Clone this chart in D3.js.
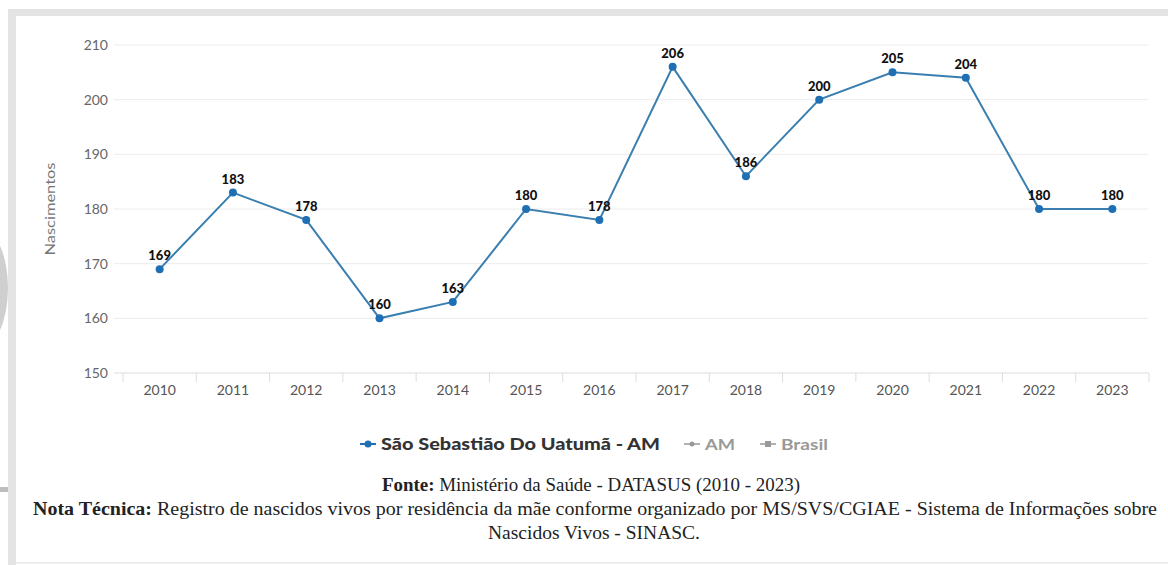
<!DOCTYPE html>
<html><head><meta charset="utf-8">
<script src="https://cdn.jsdelivr.net/npm/d3@7"></script>
<style>body{margin:0;background:#fff;}svg{display:block;}</style>
</head><body>
<svg id="c" width="1168" height="565"></svg>
<script>
const years = ["2010","2011","2012","2013","2014","2015","2016","2017","2018","2019","2020","2021","2022","2023"];
const births = [169,183,178,160,163,180,178,206,186,200,205,204,180,180];
const yTicks = [150,160,170,180,190,200,210];
const seriesName = "São Sebastião Do Uatumã - AM";
const legendOthers = ["AM","Brasil"];

const svg = d3.select("#c");
// frame
svg.append("rect").attr("x",0).attr("y",0).attr("width",1168).attr("height",565).attr("fill","#fff");
svg.append("ellipse").attr("cx",-22).attr("cy",288).attr("rx",30).attr("ry",62).attr("fill","#cfcfcf");
svg.append("rect").attr("x",0).attr("y",487).attr("width",8).attr("height",5).attr("fill","#bdbdbd");
svg.append("rect").attr("x",8).attr("y",9).attr("width",1160).attr("height",7).attr("fill","#e4e4e4");
svg.append("rect").attr("x",8).attr("y",9).attr("width",8).attr("height",556).attr("fill","#e4e4e4");
svg.append("rect").attr("x",16).attr("y",562).attr("width",1152).attr("height",1.5).attr("fill","#e8e8e8");

const x = d3.scaleBand().domain(years).range([123,1149]);
const y = d3.scaleLinear().domain([150,210]).range([373,45]);

// grid
svg.append("g").selectAll("line").data(yTicks.filter(d=>d>150)).join("line")
  .attr("x1",114).attr("x2",1148).attr("y1",d=>y(d)).attr("y2",d=>y(d))
  .attr("stroke","#ececec").attr("stroke-width",1);

// y axis labels
svg.append("g").selectAll("text").data(yTicks).join("text")
  .attr("x",108).attr("y",d=>y(d)).attr("dy","0.35em").attr("text-anchor","end")
  .attr("font-family","Lato, sans-serif").attr("font-size",14).attr("fill","#666").text(d=>d);

// x axis
const xa = svg.append("g").attr("transform","translate(0,373)")
  .call(d3.axisBottom(x).tickSize(0).tickPadding(12));
xa.select(".domain").attr("d","M114,0H1149").attr("stroke","#ddd");
xa.selectAll("text").attr("font-family","Lato, sans-serif").attr("font-size",14).attr("fill","#555");
svg.append("g").selectAll("line").data(years.concat(["end"])).join("line")
  .attr("x1",(d,i)=> i<years.length ? x(d) : x(years[years.length-1])+x.bandwidth())
  .attr("x2",(d,i)=> i<years.length ? x(d) : x(years[years.length-1])+x.bandwidth())
  .attr("y1",373).attr("y2",382).attr("stroke","#ddd");

// y title
svg.append("text").attr("transform","translate(55,209) rotate(-90)").attr("text-anchor","middle")
  .attr("font-family","Lato, sans-serif").attr("font-size",14).attr("fill","#777")
  .attr("textLength",93).attr("lengthAdjust","spacingAndGlyphs").text("Nascimentos");

const cx = d=>x(d)+x.bandwidth()/2;
const data = years.map((yr,i)=>({yr, v:births[i]}));
svg.append("path").datum(data)
  .attr("d", d3.line().x(d=>cx(d.yr)).y(d=>y(d.v)))
  .attr("fill","none").attr("stroke","#3a7fb0").attr("stroke-width",2);
svg.append("g").selectAll("circle").data(data).join("circle")
  .attr("cx",d=>cx(d.yr)).attr("cy",d=>y(d.v)).attr("r",4).attr("fill","#1f6fb4");
svg.append("g").selectAll("text").data(data).join("text")
  .attr("x",d=>cx(d.yr)).attr("y",d=>y(d.v)-9).attr("text-anchor","middle")
  .attr("font-family","Lato, sans-serif").attr("font-weight",900).attr("font-size",13).attr("fill","#111")
  .text(d=>d.v);

// legend
const lg = svg.append("g");
const lf = "Lato, sans-serif";
lg.append("line").attr("x1",360).attr("x2",376).attr("y1",444).attr("y2",444).attr("stroke","#1f6fb4").attr("stroke-width",2);
lg.append("circle").attr("cx",368).attr("cy",444).attr("r",3.5).attr("fill","#1f6fb4");
lg.append("text").attr("x",381).attr("y",444).attr("dy","0.35em").attr("font-family",lf)
  .attr("font-weight",900).attr("font-size",16).attr("fill","#333")
  .attr("textLength",279).attr("lengthAdjust","spacingAndGlyphs").text(seriesName);
lg.append("line").attr("x1",684).attr("x2",700).attr("y1",444).attr("y2",444).attr("stroke","#999").attr("stroke-width",1.5);
lg.append("circle").attr("cx",692).attr("cy",444).attr("r",2.5).attr("fill","#999");
lg.append("text").attr("x",705).attr("y",444).attr("dy","0.35em").attr("font-family",lf)
  .attr("font-weight",700).attr("font-size",16).attr("fill","#999")
  .attr("textLength",30).attr("lengthAdjust","spacingAndGlyphs").text(legendOthers[0]);
lg.append("line").attr("x1",760).attr("x2",776).attr("y1",444).attr("y2",444).attr("stroke","#999").attr("stroke-width",1.5);
lg.append("rect").attr("x",765).attr("y",441).attr("width",6).attr("height",6).attr("fill","#999");
lg.append("text").attr("x",781).attr("y",444).attr("dy","0.35em").attr("font-family",lf)
  .attr("font-weight",700).attr("font-size",16).attr("fill","#999")
  .attr("textLength",47).attr("lengthAdjust","spacingAndGlyphs").text(legendOthers[1]);

// footer
const ff = "'Liberation Serif', 'DejaVu Serif', serif";
const f1 = svg.append("text").attr("x",382).attr("y",491)
  .attr("font-family",ff).attr("font-size",18).attr("fill","#222")
  .attr("textLength",418).attr("lengthAdjust","spacingAndGlyphs");
f1.append("tspan").attr("font-weight",700).text("Fonte:");
f1.append("tspan").text(" Ministério da Saúde - DATASUS (2010 - 2023)");
const f2 = svg.append("text").attr("x",33).attr("y",515)
  .attr("font-family",ff).attr("font-size",18).attr("fill","#222")
  .attr("textLength",1124).attr("lengthAdjust","spacingAndGlyphs");
f2.append("tspan").attr("font-weight",700).text("Nota Técnica:");
f2.append("tspan").text(" Registro de nascidos vivos por residência da mãe conforme organizado por MS/SVS/CGIAE - Sistema de Informações sobre");
svg.append("text").attr("x",488).attr("y",539)
  .attr("font-family",ff).attr("font-size",18).attr("fill","#222")
  .attr("textLength",212).attr("lengthAdjust","spacingAndGlyphs").text("Nascidos Vivos - SINASC.");
</script>
</body></html>
